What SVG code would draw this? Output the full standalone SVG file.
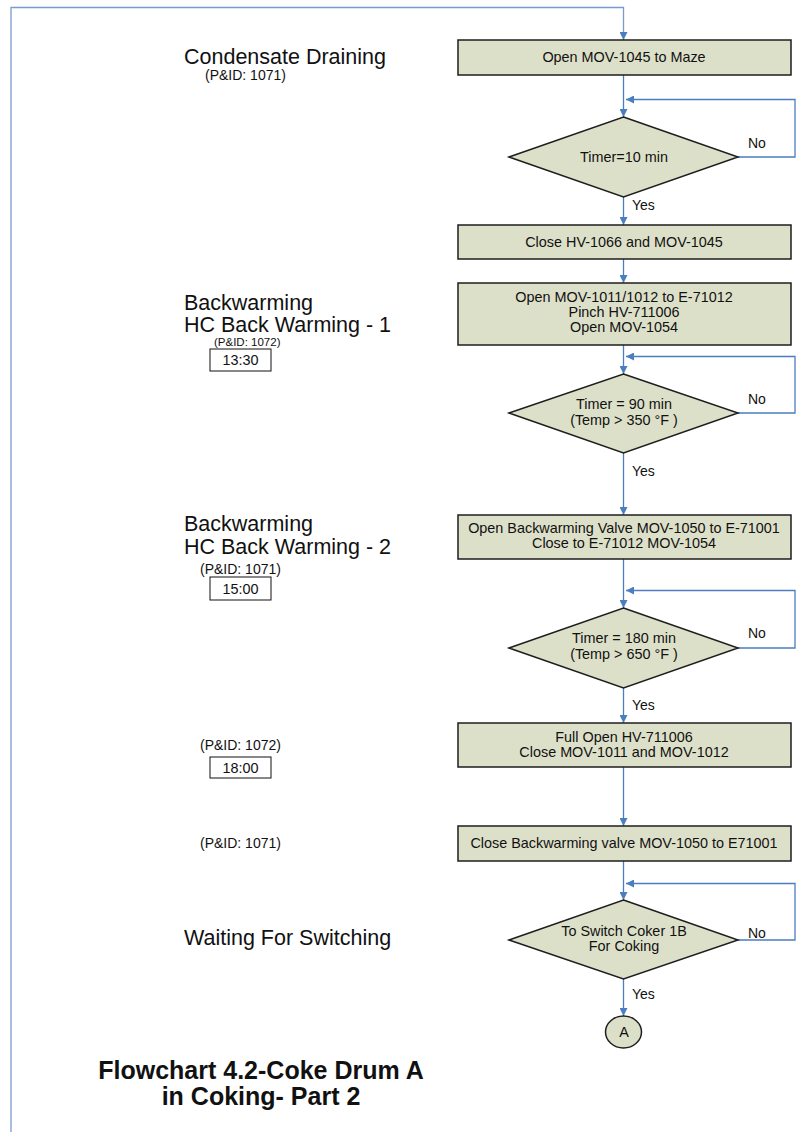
<svg xmlns="http://www.w3.org/2000/svg" width="803" height="1132" viewBox="0 0 803 1132">
<style>
.box{fill:#dde0c9;stroke:#1e1e1e;stroke-width:1.5}
.t{font-family:"Liberation Sans",Arial,sans-serif;font-size:14.4px;fill:#111;text-anchor:middle}
.lbl{font-family:"Liberation Sans",Arial,sans-serif;font-size:14px;fill:#111}
.h{font-family:"Liberation Sans",Arial,sans-serif;font-size:21.5px;fill:#111}
.pid{font-family:"Liberation Sans",Arial,sans-serif;font-size:14px;fill:#111}
.tb{fill:#fff;stroke:#111;stroke-width:1}
.c{fill:none;stroke:#4a7ebf;stroke-width:1.3}
.title{font-family:"Liberation Sans",Arial,sans-serif;font-size:25px;font-weight:bold;fill:#111;text-anchor:middle}
</style>
<defs>
<marker id="ah" viewBox="0 0 10 10" refX="10" refY="5" markerWidth="8" markerHeight="8" markerUnits="userSpaceOnUse" orient="auto">
<path d="M0,0 L10,5 L0,10 z" fill="#4a7ebf"/>
</marker>
</defs>
<rect width="803" height="1132" fill="#fff"/>

<g id="connectors">
<path class="c" d="M11,1132 L11,7.5 L623.5,7.5 L623.5,40" style="stroke:#7a9ccc" marker-end="url(#ah)"/>
<path class="c" d="M623.5,75 L623.5,117" marker-end="url(#ah)"/>
<path class="c" d="M738,157 L795,157 L795,99.5 L626,99.5" marker-end="url(#ah)"/>
<path class="c" d="M623.5,197 L623.5,225" marker-end="url(#ah)"/>
<path class="c" d="M623.5,259 L623.5,283" marker-end="url(#ah)"/>
<path class="c" d="M623.5,345 L623.5,374" marker-end="url(#ah)"/>
<path class="c" d="M738,413 L795,413 L795,356.5 L626,356.5" marker-end="url(#ah)"/>
<path class="c" d="M623.5,453 L623.5,515" marker-end="url(#ah)"/>
<path class="c" d="M623.5,559 L623.5,608" marker-end="url(#ah)"/>
<path class="c" d="M738,648 L795,648 L795,590.5 L626,590.5" marker-end="url(#ah)"/>
<path class="c" d="M623.5,688 L623.5,723" marker-end="url(#ah)"/>
<path class="c" d="M623.5,767 L623.5,826" marker-end="url(#ah)"/>
<path class="c" d="M623.5,861 L623.5,900" marker-end="url(#ah)"/>
<path class="c" d="M738,940 L795,940 L795,883.5 L626,883.5" marker-end="url(#ah)"/>
<path class="c" d="M623.5,979 L623.5,1016" marker-end="url(#ah)"/>
<text class="lbl" x="748" y="148">No</text>
<text class="lbl" x="632" y="210">Yes</text>
<text class="lbl" x="748" y="404">No</text>
<text class="lbl" x="632" y="476">Yes</text>
<text class="lbl" x="748" y="638">No</text>
<text class="lbl" x="632" y="710">Yes</text>
<text class="lbl" x="748" y="938">No</text>
<text class="lbl" x="632" y="999">Yes</text>
</g>

<g id="n1">
<rect class="box" x="458" y="40" width="333" height="35"/>
<text class="t" x="624" y="62">Open MOV-1045 to Maze</text>
</g>
<g id="d1">
<polygon class="box" points="623.5,117 738,157 623.5,197 509,157"/>
<text class="t" x="624" y="162">Timer=10 min</text>
</g>
<g id="n2">
<rect class="box" x="458" y="225" width="333" height="34"/>
<text class="t" x="624" y="247">Close HV-1066 and MOV-1045</text>
</g>
<g id="n3">
<rect class="box" x="458" y="283" width="333" height="62"/>
<text class="t" x="624" y="302">Open MOV-1011/1012 to E-71012</text>
<text class="t" x="624" y="317">Pinch HV-711006</text>
<text class="t" x="624" y="332">Open MOV-1054</text>
</g>
<g id="d2">
<polygon class="box" points="623.5,374 738,413 623.5,453 509,413"/>
<text class="t" x="624" y="409">Timer = 90 min</text>
<text class="t" x="624" y="425">(Temp &gt; 350 °F )</text>
</g>
<g id="n4">
<rect class="box" x="458" y="515" width="333" height="44"/>
<text class="t" x="624" y="533">Open Backwarming Valve MOV-1050 to E-71001</text>
<text class="t" x="624" y="548">Close to E-71012 MOV-1054</text>
</g>
<g id="d3">
<polygon class="box" points="623.5,608 738,648 623.5,688 509,648"/>
<text class="t" x="624" y="643">Timer = 180 min</text>
<text class="t" x="624" y="659">(Temp &gt; 650 °F )</text>
</g>
<g id="n5">
<rect class="box" x="458" y="723" width="333" height="44"/>
<text class="t" x="624" y="742">Full Open HV-711006</text>
<text class="t" x="624" y="757">Close MOV-1011 and MOV-1012</text>
</g>
<g id="n6">
<rect class="box" x="458" y="826" width="333" height="35"/>
<text class="t" x="624" y="848">Close Backwarming valve MOV-1050 to E71001</text>
</g>
<g id="d4">
<polygon class="box" points="623.5,900 738,940 623.5,979 509,940"/>
<text class="t" x="624" y="936">To Switch Coker 1B</text>
<text class="t" x="624" y="951">For Coking</text>
</g>
<g id="endA">
<ellipse class="box" cx="623.5" cy="1032" rx="18" ry="16"/>
<text class="t" x="624" y="1037">A</text>
</g>

<g id="labels">
<text class="h" x="184" y="64">Condensate Draining</text>
<text class="pid" x="205" y="80">(P&amp;ID: 1071)</text>

<text class="h" x="184" y="310">Backwarming</text>
<text class="h" x="184" y="332">HC Back Warming - 1</text>
<text class="pid" x="214" y="346" style="font-size:11.5px">(P&amp;ID: 1072)</text>
<rect class="tb" x="210" y="349" width="61" height="22"/>
<text class="t" x="240.5" y="365">13:30</text>

<text class="h" x="184" y="531">Backwarming</text>
<text class="h" x="184" y="554">HC Back Warming - 2</text>
<text class="pid" x="200" y="574">(P&amp;ID: 1071)</text>
<rect class="tb" x="210" y="577" width="61" height="23"/>
<text class="t" x="240.5" y="594">15:00</text>

<text class="pid" x="200" y="750">(P&amp;ID: 1072)</text>
<rect class="tb" x="210" y="757" width="61" height="21"/>
<text class="t" x="240.5" y="773">18:00</text>

<text class="pid" x="200" y="848">(P&amp;ID: 1071)</text>

<text class="h" x="184" y="945">Waiting For Switching</text>

<text class="title" x="261" y="1079">Flowchart 4.2-Coke Drum A</text>
<text class="title" x="261" y="1105">in Coking- Part 2</text>
</g>
</svg>
